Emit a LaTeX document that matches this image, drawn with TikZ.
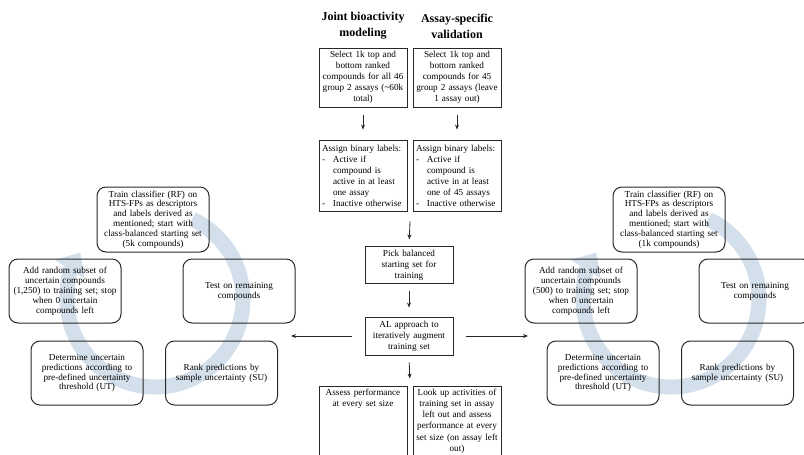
\documentclass[tikz,border=0pt]{standalone}
\usepackage{fontspec}
\setmainfont{Liberation Serif}
\usetikzlibrary{arrows.meta,calc}
\definecolor{cyc}{RGB}{212,223,236}
\definecolor{ink}{RGB}{40,40,40}
\begin{document}
\begin{tikzpicture}[x=1pt,y=-1pt,
  box/.style={draw=ink, line width=0.9pt, inner sep=3pt, minimum width=88pt, text width=82pt,
    align=center, font=\fontsize{9.2}{11}\selectfont},
  lbox/.style={box, align=left},
  tbox/.style={inner sep=0pt, text width=82pt, align=center, font=\fontsize{9.2}{11.2}\selectfont},
  cbox/.style={draw=ink, line width=1pt, rounded corners=9pt, minimum width=112pt, minimum height=64pt,
    text width=108pt, inner sep=2pt, align=center, font=\fontsize{9.2}{9.9}\selectfont},
  arr/.style={-{Stealth[length=5pt,width=4pt]}, line width=0.8pt, draw=ink},
  ttl/.style={font=\fontsize{12}{16}\selectfont\bfseries, align=center},
  cyclearrow/.style={draw=cyc, line width=15pt, -{Triangle[length=20pt,width=34pt]}}]
\useasboundingbox (0,0) rectangle (804,455);
\clip (0,0) rectangle (804,455);

% ---------- circular arrows (behind) ----------
\coordinate (lc) at (155,299);
\coordinate (rc) at (671,299);
\draw[cyclearrow] ($(lc)+(-65:88)$) arc[start angle=-65, end angle=212, radius=88];
\draw[cyclearrow] ($(rc)+(-65:88)$) arc[start angle=-65, end angle=212, radius=88];

% ---------- titles ----------
\node[ttl] (t1) at (363,26) {Joint bioactivity\\modeling};
\node[ttl] (t2) at (457,26) {Assay-specific\\validation};

% ---------- central column ----------
\node[box, minimum height=59pt] (b1l) at (363,77.5)
  {Select 1k top and\\bottom ranked\\compounds for all 46\\group 2 assays (\textasciitilde60k\\total)};
\node[box, minimum height=59pt] (b1r) at (457,77.5)
  {Select 1k top and\\bottom ranked\\compounds for 45\\group 2 assays (leave\\1 assay out)};

\node[lbox, minimum height=71pt] (b2l) at (363,175.5)
  {Assign binary labels:\\
   \makebox[11pt][l]{-}Active if\\
   \hspace*{11pt}compound is\\
   \hspace*{11pt}active in at least\\
   \hspace*{11pt}one assay\\
   \makebox[11pt][l]{-}Inactive otherwise};
\node[lbox, minimum height=71pt] (b2r) at (457,175.5)
  {Assign binary labels:\\
   \makebox[11pt][l]{-}Active if\\
   \hspace*{11pt}compound is\\
   \hspace*{11pt}active in at least\\
   \hspace*{11pt}one of 45 assays\\
   \makebox[11pt][l]{-}Inactive otherwise};

\node[box, minimum height=36pt] (b3) at (409,265)
  {Pick balanced\\starting set for\\training};
\node[box, minimum height=38pt] (b4) at (409,336)
  {AL approach to\\iteratively augment\\training set};

\node[box, minimum height=80pt] (b5l) at (363,426) {};
\node[box, minimum height=80pt] (b5r) at (457,426) {};
\node[tbox, anchor=north] (b5lt) at ($(b5l.north)+(0,3)$)
  {Assess performance\\at every set size};
\node[tbox, anchor=north] (b5rt) at ($(b5r.north)+(0,3)$)
  {Look up activities of\\training set in assay\\left out and assess\\performance at every\\set size (on assay left\\out)};

% connectors
\coordinate (j2) at ($(b2l.south)!0.5!(b2r.south)$);
\coordinate (j2s) at ($(j2)+(0,10)$);
\coordinate (j5) at ($(b5l.north)!0.5!(b5r.north)$);
\coordinate (la) at (291,336);
\coordinate (ra) at (528,336);
\draw[arr, shorten <=8pt, shorten >=10pt] (b1l) -- (b2l);
\draw[arr, shorten <=8pt, shorten >=10pt] (b1r) -- (b2r);
\draw[arr, shorten >=7pt] (j2s) -- (b3.north);
\draw[arr, shorten <=7pt, shorten >=9pt] (b3) -- (b4);
\draw[arr, shorten <=7pt, shorten >=7pt] (b4.south) -- (j5);
\draw[arr, shorten <=13pt] (b4) -- (la);
\draw[arr, shorten <=13pt] (b4) -- (ra);

% ---------- left cycle ----------
\node[cbox, minimum height=65pt] (lt) at (153,219.5)
  {Train classifier (RF) on\\HTS-FPs as descriptors\\and labels derived as\\mentioned; start with\\class-balanced starting set\\(5k compounds)};
\node[cbox] (la1) at (65,291)
  {Add random subset of\\uncertain compounds\\(1,250) to training set; stop\\when 0 uncertain\\compounds left};
\node[cbox] (lte) at (239,291)
  {Test on remaining\\compounds};
\node[cbox] (ld) at (87,373)
  {Determine uncertain\\predictions according to\\pre-defined uncertainty\\threshold (UT)};
\node[cbox] (lr) at (221.5,373)
  {Rank predictions by\\sample uncertainty (SU)};

% ---------- right cycle ----------
\node[cbox, minimum height=65pt] (rt) at (669,219.5)
  {Train classifier (RF) on\\HTS-FPs as descriptors\\and labels derived as\\mentioned; start with\\class-balanced starting set\\(1k compounds)};
\node[cbox] (ra1) at (581,291)
  {Add random subset of\\uncertain compounds\\(500) to training set; stop\\when 0 uncertain\\compounds left};
\node[cbox] (rte) at (755,291)
  {Test on remaining\\compounds};
\node[cbox] (rd) at (603,373)
  {Determine uncertain\\predictions according to\\pre-defined uncertainty\\threshold (UT)};
\node[cbox] (rr) at (737.5,373)
  {Rank predictions by\\sample uncertainty (SU)};
\end{tikzpicture}
\end{document}
